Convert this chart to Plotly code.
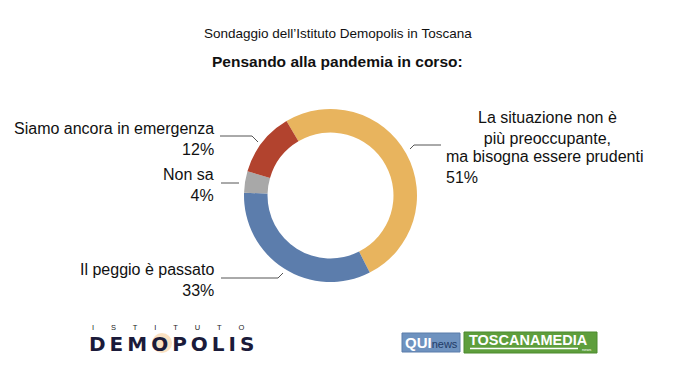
import plotly.graph_objects as go

W, H = 675, 380

labels = ["La situazione non è più preoccupante, ma bisogna essere prudenti",
          "Il peggio è passato", "Non sa", "Siamo ancora in emergenza"]
values = [51, 33, 4, 12]
colors = ["#E8B45E", "#5C7DAC", "#A8A8A8", "#B2432E"]

title_top = "Sondaggio dell’Istituto Demopolis in Toscana"
title_main = "Pensando alla pandemia in corso:"


def px(x):
    return x / W


def py(y):
    return 1 - y / H


cx, cy, r = 330.5, 195.5, 86.5

fig = go.Figure()
fig.add_trace(go.Pie(
    labels=labels, values=values, sort=False, direction="clockwise",
    rotation=-30.6, hole=0.728,
    marker=dict(colors=colors, line=dict(width=0)),
    textinfo="none", hoverinfo="label+percent", showlegend=False,
    domain=dict(x=[px(cx - r), px(cx + r)], y=[py(cy + r), py(cy - r)]),
))

ann = []
shapes = []
FONT = "Liberation Sans, Arial, sans-serif"

ann.append(dict(x=px(337.5), y=py(33), text=title_top, showarrow=False,
                xanchor="center", yanchor="middle",
                font=dict(family=FONT, size=13.5, color="#111")))
ann.append(dict(x=px(337.5), y=py(61.5), text="<b>" + title_main + "</b>", showarrow=False,
                xanchor="center", yanchor="middle",
                font=dict(family=FONT, size=15.5, color="#111")))

# left labels (right aligned)
left = [
    ("Siamo ancora in emergenza<br>" + f"{values[3]}%", 138.5),
    ("Non sa<br>" + f"{values[2]}%", 185),
    ("Il peggio è passato<br>" + f"{values[1]}%", 280),
]
for txt, yc in left:
    ann.append(dict(x=px(216), y=py(yc), text=txt, showarrow=False,
                    xanchor="right", yanchor="middle", align="right",
                    font=dict(family=FONT, size=16, color="#111")))

# right label
ann.append(dict(x=px(547), y=py(127.5), text="La situazione non è<br>più preoccupante,",
                showarrow=False, xanchor="center", yanchor="middle", align="center",
                font=dict(family=FONT, size=16, color="#111")))
ann.append(dict(x=px(444), y=py(167), text="ma bisogna essere prudenti<br>" + f"{values[0]}%",
                showarrow=False, xanchor="left", yanchor="middle", align="left",
                font=dict(family=FONT, size=16, color="#111")))

# leader lines
lc = dict(color="#555", width=1)
lines = [
    [(220, 136), (252, 136), (258, 142)],
    [(221, 183), (239, 183)],
    [(221, 278), (278, 278), (283, 273)],
    [(441, 145), (414, 145), (410, 149)],
]
for pts in lines:
    path = "M " + " L ".join(f"{px(x)},{py(y)}" for x, y in pts)
    shapes.append(dict(type="path", xref="paper", yref="paper", path=path, line=lc))

# Demopolis logo
gap = "\u2003\u2003\u2005"
ann.append(dict(x=px(168), y=py(327.5), text=gap.join("ISTITUTO"),
                showarrow=False, xanchor="center", yanchor="middle",
                font=dict(family=FONT, size=7.5, color="#222")))
shapes.append(dict(type="circle", xref="paper", yref="paper",
                   x0=px(152), x1=px(172), y0=py(353), y1=py(333),
                   fillcolor="rgba(240,170,80,0.35)", line=dict(width=0), layer="below"))
ann.append(dict(x=px(171), y=py(344), text="<b>" + "\u2009".join("DEMOPOLIS") + "</b>",
                showarrow=False, xanchor="center", yanchor="middle",
                font=dict(family="DejaVu Sans, " + FONT, size=20, color="#1B1B3A")))

# QUInews logo
shapes.append(dict(type="rect", xref="paper", yref="paper",
                   x0=px(402), x1=px(460), y0=py(352), y1=py(333),
                   fillcolor="#6E92BF", line=dict(color="#5A7DAA", width=1)))
ann.append(dict(x=px(431), y=py(342.5), text="<b>QUI</b><span style='font-size:11px;color:#1F3A66'>news</span>",
                showarrow=False, xanchor="center", yanchor="middle",
                font=dict(family=FONT, size=15, color="white")))
# ToscanaMedia logo
shapes.append(dict(type="rect", xref="paper", yref="paper",
                   x0=px(464), x1=px(597), y0=py(353), y1=py(332),
                   fillcolor="#5E9E3C", line=dict(color="#4C8A2E", width=1)))
ann.append(dict(x=px(528), y=py(340), text="<b>TOSCANAMEDIA</b>",
                showarrow=False, xanchor="center", yanchor="middle",
                font=dict(family=FONT, size=14.5, color="white")))
shapes.append(dict(type="line", xref="paper", yref="paper",
                   x0=px(470), x1=px(578), y0=py(348.5), y1=py(348.5),
                   line=dict(color="white", width=1.5)))
ann.append(dict(x=px(586), y=py(349.5), text="news", showarrow=False,
                xanchor="center", yanchor="middle",
                font=dict(family=FONT, size=4, color="white")))

fig.update_layout(
    width=W, height=H, margin=dict(l=0, r=0, t=0, b=0),
    paper_bgcolor="white", plot_bgcolor="white",
    annotations=ann, shapes=shapes,
)

fig.write_html("out.html", config={"displayModeBar": False},
               post_script="document.body.style.margin='0';")
